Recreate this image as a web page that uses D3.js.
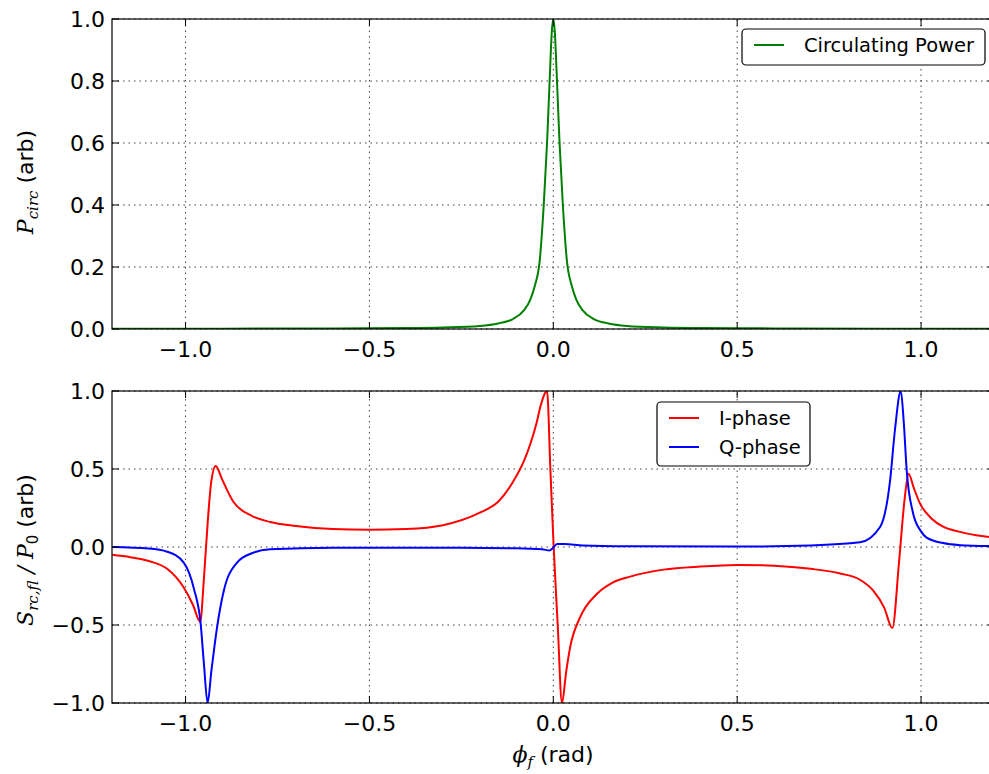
<!DOCTYPE html>
<html>
<head>
<meta charset="utf-8">
<script src="https://cdn.jsdelivr.net/npm/d3@7"></script>
<style>
  body { margin: 0; background: #fff; }
  text { font-family: "DejaVu Sans", sans-serif; fill: #000; }
  .math { font-family: "DejaVu Serif", serif; font-style: italic; }
</style>
</head>
<body>
<div id="chart"></div>
<script>
// ---- data ----
var xTicks = [-1.0, -0.5, 0.0, 0.5, 1.0];
var yTicksTop = [0.0, 0.2, 0.4, 0.6, 0.8, 1.0];
var yTicksBottom = [-1.0, -0.5, 0.0, 0.5, 1.0];

var circX = [-1.2, -0.9, -0.6, -0.4, -0.3, -0.2, -0.15, -0.11, -0.08, -0.0625, -0.05, -0.037, -0.026, -0.017, -0.010, -0.004, 0,
             0.004, 0.010, 0.017, 0.026, 0.037, 0.05, 0.0625, 0.08, 0.11, 0.15, 0.2, 0.3, 0.4, 0.6, 0.9, 1.2];
var circY = [0.001, 0.001, 0.002, 0.003, 0.005, 0.01, 0.018, 0.032, 0.06, 0.095, 0.14, 0.22, 0.4, 0.6, 0.8, 0.96, 1.0,
             0.96, 0.8, 0.6, 0.4, 0.22, 0.14, 0.095, 0.06, 0.032, 0.018, 0.01, 0.005, 0.003, 0.002, 0.001, 0.001];

var iX = [-1.2, -1.15, -1.1, -1.05, -1.005, -0.98, -0.96, -0.95, -0.94, -0.93, -0.918, -0.9, -0.87, -0.82, -0.77, -0.7, -0.6, -0.5, -0.4, -0.3,
          -0.2, -0.15, -0.109, -0.08, -0.0625, -0.045, -0.035, -0.017, -0.008, 0.001, 0.012, 0.0236, 0.035, 0.046, 0.073, 0.119, 0.16, 0.209,
          0.3, 0.4, 0.5, 0.6, 0.7, 0.78, 0.834, 0.87, 0.9, 0.922, 0.94, 0.955, 0.966, 0.98, 0.997, 1.03, 1.06, 1.1, 1.15, 1.2];
var iY = [-0.05, -0.065, -0.09, -0.14, -0.26, -0.37, -0.48, -0.2, 0.15, 0.42, 0.52, 0.43, 0.29, 0.2, 0.16, 0.135, 0.115, 0.11, 0.115, 0.14,
          0.22, 0.29, 0.42, 0.55, 0.66, 0.8, 0.9, 1.0, 0.5, 0.0, -0.5, -1.0, -0.8, -0.64, -0.45, -0.3, -0.23, -0.19,
          -0.145, -0.125, -0.115, -0.12, -0.14, -0.17, -0.21, -0.28, -0.39, -0.52, -0.1, 0.3, 0.47, 0.38, 0.28, 0.18, 0.13, 0.1, 0.075, 0.06];

var qX = [-1.2, -1.1, -1.05, -1.005, -0.977, -0.959, -0.95, -0.94, -0.93, -0.914, -0.896, -0.86, -0.82, -0.77, -0.6, -0.3, -0.1, -0.03, -0.01,
          0.0, 0.01, 0.03, 0.08, 0.2, 0.5, 0.7, 0.834, 0.889, 0.916, 0.929, 0.945, 0.953, 0.961, 0.978, 1.0, 1.015, 1.06, 1.106, 1.2];
var qY = [0.0, -0.01, -0.03, -0.1, -0.27, -0.49, -0.75, -1.0, -0.8, -0.51, -0.28, -0.1, -0.04, -0.015, -0.005, -0.005, -0.008, -0.015, -0.022,
          -0.005, 0.02, 0.02, 0.01, 0.005, 0.003, 0.01, 0.03, 0.13, 0.43, 0.75, 1.0, 0.8, 0.49, 0.22, 0.1, 0.06, 0.025, 0.012, 0.005];

// ---- layout ----
var width = 989, height = 774;
var svg = d3.select("#chart").append("svg")
  .attr("width", width).attr("height", height);

var x = d3.scaleLinear().domain([-1.2, 1.2]).range([112, 994.6]);
var yTop = d3.scaleLinear().domain([0, 1]).range([329, 19]);
var yBot = d3.scaleLinear().domain([-1, 1]).range([703, 391]);

function fmt(v) { return d3.format(".1f")(v).replace("-", "\u2212"); }

function zip(xs, ys) { return xs.map(function(v, i) { return [v, ys[i]]; }); }

function drawPanel(id, y, yTicks, series) {
  var x0 = x.range()[0], x1 = x.range()[1];
  var y0 = y.range()[0], y1 = y.range()[1];
  var g = svg.append("g");

  svg.append("clipPath").attr("id", "clip" + id)
    .append("rect").attr("x", x0).attr("y", y1).attr("width", x1 - x0).attr("height", y0 - y1);

  // grid
  g.selectAll(".gx").data(xTicks).enter().append("line")
    .attr("x1", function(d) { return x(d); }).attr("x2", function(d) { return x(d); })
    .attr("y1", y0).attr("y2", y1)
    .attr("stroke", "#000").attr("stroke-width", 1).attr("stroke-dasharray", "1.5,4").attr("opacity", 0.75);
  g.selectAll(".gy").data(yTicks).enter().append("line")
    .attr("x1", x0).attr("x2", x1)
    .attr("y1", function(d) { return y(d); }).attr("y2", function(d) { return y(d); })
    .attr("stroke", "#000").attr("stroke-width", 1).attr("stroke-dasharray", "1.5,4").attr("opacity", 0.75);

  // curves
  var line = d3.line()
    .x(function(d) { return x(d[0]); })
    .y(function(d) { return y(d[1]); })
    .curve(d3.curveMonotoneX);
  series.forEach(function(s) {
    g.append("path").datum(s.pts)
      .attr("clip-path", "url(#clip" + id + ")")
      .attr("fill", "none").attr("stroke", s.color).attr("stroke-width", 2)
      .attr("stroke-linejoin", "round")
      .attr("d", line);
  });

  // spines
  g.append("rect").attr("x", x0).attr("y", y1).attr("width", x1 - x0).attr("height", y0 - y1)
    .attr("fill", "none").attr("stroke", "#000").attr("stroke-width", 1.2);

  // ticks pointing inward, all four sides
  var tl = 7;
  xTicks.forEach(function(d) {
    g.append("line").attr("x1", x(d)).attr("x2", x(d)).attr("y1", y0).attr("y2", y0 - tl).attr("stroke", "#000");
    g.append("line").attr("x1", x(d)).attr("x2", x(d)).attr("y1", y1).attr("y2", y1 + tl).attr("stroke", "#000");
    g.append("text").attr("x", x(d)).attr("y", y0 + 28)
      .attr("text-anchor", "middle").attr("font-size", 22).text(fmt(d));
  });
  yTicks.forEach(function(d) {
    g.append("line").attr("x1", x0).attr("x2", x0 + tl).attr("y1", y(d)).attr("y2", y(d)).attr("stroke", "#000");
    g.append("line").attr("x1", x1).attr("x2", x1 - tl).attr("y1", y(d)).attr("y2", y(d)).attr("stroke", "#000");
    g.append("text").attr("x", x0 - 7).attr("y", y(d) + 8)
      .attr("text-anchor", "end").attr("font-size", 22).text(fmt(d));
  });
  return g;
}

drawPanel("top", yTop, yTicksTop, [{ color: "#008000", pts: zip(circX, circY) }]);
drawPanel("bot", yBot, yTicksBottom, [
  { color: "#ff0000", pts: zip(iX, iY) },
  { color: "#0000ff", pts: zip(qX, qY) }
]);

// y labels
var lt = svg.append("text").attr("transform", "translate(33,182) rotate(-90)")
  .attr("text-anchor", "middle").attr("font-size", 22);
lt.append("tspan").attr("class", "math").text("P");
lt.append("tspan").attr("class", "math").attr("font-size", 15).attr("dy", 5).text("circ");
lt.append("tspan").attr("dy", -5).text(" (arb)");

var lb = svg.append("text").attr("transform", "translate(33,550) rotate(-90)")
  .attr("text-anchor", "middle").attr("font-size", 22);
lb.append("tspan").attr("class", "math").text("S");
lb.append("tspan").attr("class", "math").attr("font-size", 15).attr("dy", 5).text("rc,fl");
lb.append("tspan").attr("class", "math").attr("dy", -5).text(" / P");
lb.append("tspan").attr("font-size", 15).attr("dy", 5).text("0");
lb.append("tspan").attr("dy", -5).text("  (arb)");

// x label
var lx = svg.append("text").attr("x", 553).attr("y", 762)
  .attr("text-anchor", "middle").attr("font-size", 22);
lx.append("tspan").attr("class", "math").text("\u03d5");
lx.append("tspan").attr("class", "math").attr("font-size", 15).attr("dy", 5).text("f");
lx.append("tspan").attr("dy", -5).text("  (rad)");

// legends
function legend(bx, by, bw, bh, items) {
  var g = svg.append("g");
  g.append("rect").attr("x", bx).attr("y", by).attr("width", bw).attr("height", bh)
    .attr("rx", 4).attr("fill", "#fff").attr("stroke", "#000").attr("stroke-width", 1.2);
  items.forEach(function(it, i) {
    var cy = by + 16 + i * 29;
    g.append("line").attr("x1", bx + 12).attr("x2", bx + 42).attr("y1", cy).attr("y2", cy)
      .attr("stroke", it.color).attr("stroke-width", 2);
    g.append("text").attr("x", bx + 62).attr("y", cy + 7).attr("font-size", 19.5).text(it.label);
  });
}
legend(742, 29, 243, 36, [{ color: "#008000", label: "Circulating Power" }]);
legend(657, 402, 153, 64, [
  { color: "#ff0000", label: "I-phase" },
  { color: "#0000ff", label: "Q-phase" }
]);
</script>
</body>
</html>
